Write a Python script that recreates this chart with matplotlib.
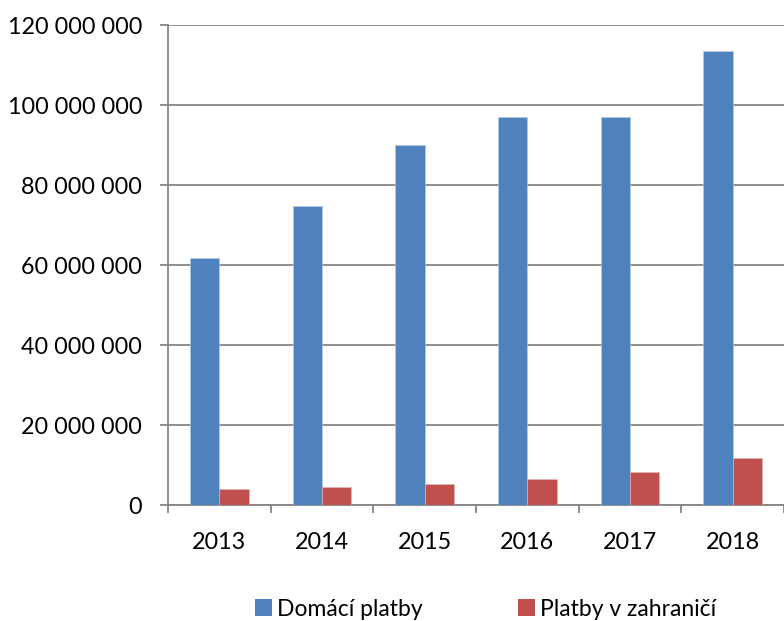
import matplotlib
matplotlib.use("Agg")
import matplotlib.pyplot as plt
import numpy as np
from matplotlib.ticker import FuncFormatter, FixedLocator
from matplotlib.patches import Patch

years = ["2013", "2014", "2015", "2016", "2017", "2018"]
domaci = [61.8e6, 74.7e6, 90.0e6, 97.0e6, 97.1e6, 113.6e6]
zahranici = [4.0e6, 4.5e6, 5.3e6, 6.5e6, 8.3e6, 11.75e6]
series_names = ["Domácí platby", "Platby v zahraničí"]

BLUE = "#4F81BD"
RED = "#C0504D"
GRID = "#868686"

plt.rcParams["font.family"] = ["Lato", "DejaVu Sans"]

W, H = 784, 621
fig = plt.figure(figsize=(W / 100, H / 100), dpi=100)
# plot area in pixels: x 168..(past right edge), y 25..505
cat_w = 104
left, top, bottom = 168, 25, 505
ax = fig.add_axes([left / W, 1 - bottom / H, (W - left) / W, (bottom - top) / H])

x = np.arange(len(years))
bw = 0.285
ax.bar(x - bw / 2, domaci, width=bw, color=BLUE, edgecolor="#B9CDE5", linewidth=0.4, zorder=3)
ax.bar(x + bw / 2, zahranici, width=bw, color=RED, edgecolor="#E6B9B8", linewidth=0.4, zorder=3)

ax.set_xlim(-0.5, -0.5 + (W - left) / cat_w)
ax.set_ylim(0, 120e6)

ax.yaxis.set_major_locator(FixedLocator(np.arange(0, 120e6 + 1, 20e6)))
ax.yaxis.set_major_formatter(FuncFormatter(lambda v, p: f"{int(v):,}".replace(",", " ")))
ax.grid(axis="y", color=GRID, linewidth=1.3, zorder=0)

ax.set_xticks(x)
ax.set_xticklabels(years)
ax.set_xticks(np.arange(-0.5, len(years) + 0.5, 1), minor=True)
ax.tick_params(axis="x", which="major", length=0, pad=19.5, labelsize=16.8)
ax.tick_params(axis="x", which="minor", length=6, width=1.3, color=GRID)
ax.tick_params(axis="y", length=6, width=1.3, color=GRID, pad=12.5, labelsize=16.8)

for s in ["top", "right"]:
    ax.spines[s].set_visible(False)
for s in ["left", "bottom"]:
    ax.spines[s].set_color(GRID)
    ax.spines[s].set_linewidth(1.3)

# two legend entries placed separately, like the original layout
for color, name, xpos in [(BLUE, series_names[0], 255), (RED, series_names[1], 518)]:
    fig.legend([Patch(facecolor=color)], [name], loc="center left",
               bbox_to_anchor=(xpos / W, 1 - 609 / H), frameon=False, fontsize=16.5,
               borderpad=0, borderaxespad=0, handlelength=0.72, handleheight=0.72,
               handletextpad=0.25)

fig.savefig("out.png", dpi=100)
